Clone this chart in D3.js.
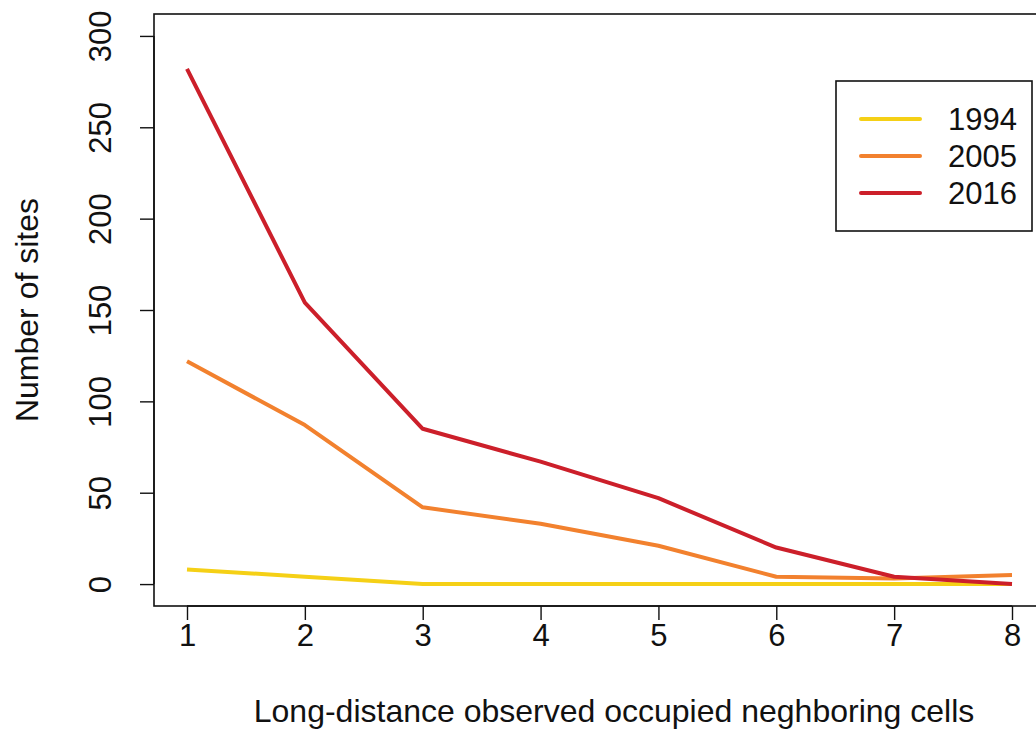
<!DOCTYPE html>
<html>
<head>
<meta charset="utf-8">
<script src="https://cdn.jsdelivr.net/npm/d3@7"></script>
<style>
  body { margin: 0; background: #fff; }
  text { font-family: "Liberation Sans", Arial, sans-serif; fill: #111; }
</style>
</head>
<body>
<svg id="chart" width="1036" height="755"></svg>
<script>
const cells = [1, 2, 3, 4, 5, 6, 7, 8];
const years = ["1994", "2005", "2016"];
const sites1994 = [8, 4, 0, 0, 0, 0, 0, 0];
const sites2005 = [122, 87, 42, 33, 21, 4, 3, 5];
const sites2016 = [282, 154, 85, 67, 47, 20, 4, 0];
const yTicks = [0, 50, 100, 150, 200, 250, 300];
const colors = ["#f5d016", "#f2812e", "#cc1f2a"];

const series = [sites1994, sites2005, sites2016];

const svg = d3.select("#chart");
const box = { left: 154, right: 1045, top: 14, bottom: 606 };

// R style padding: 4% on each side
const x = d3.scaleLinear().domain([0.72, 8.28]).range([box.left, box.right]);
const y = d3.scaleLinear().domain([-12, 312]).range([box.bottom, box.top]);

const fontSize = 31;

// lines
const line = d3.line()
    .x((d, i) => x(cells[i]))
    .y(d => y(d));

svg.append("g")
    .selectAll("path")
    .data(series)
    .join("path")
    .attr("d", line)
    .attr("fill", "none")
    .attr("stroke", (d, i) => colors[i])
    .attr("stroke-width", 4)
    .attr("stroke-linejoin", "round");

// plot box
svg.append("rect")
    .attr("x", box.left)
    .attr("y", box.top)
    .attr("width", box.right - box.left)
    .attr("height", box.bottom - box.top)
    .attr("fill", "none")
    .attr("stroke", "#111")
    .attr("stroke-width", 1.6);

// x axis
const xAxis = svg.append("g")
    .attr("transform", `translate(0, ${box.bottom})`)
    .call(d3.axisBottom(x).tickValues(cells).tickSize(14).tickPadding(4).tickFormat(d3.format("d")));
xAxis.select(".domain").attr("d", `M${x(1)},0H${x(8)}`).attr("stroke", "#111").attr("stroke-width", 1.4);
xAxis.selectAll(".tick line").attr("stroke", "#111").attr("stroke-width", 1.4);
xAxis.selectAll(".tick text")
    .attr("font-size", fontSize)
    .attr("font-family", "Liberation Sans, Arial, sans-serif")
    .attr("fill", "#111");

// y axis
const yAxis = svg.append("g")
    .attr("transform", `translate(${box.left}, 0)`)
    .call(d3.axisLeft(y).tickValues(yTicks).tickSize(14).tickFormat(d3.format("d")));
yAxis.select(".domain").attr("d", `M0,${y(0)}V${y(300)}`).attr("stroke", "#111").attr("stroke-width", 1.4);
yAxis.selectAll(".tick line").attr("stroke", "#111").attr("stroke-width", 1.4);
yAxis.selectAll(".tick text")
    .attr("font-size", fontSize)
    .attr("font-family", "Liberation Sans, Arial, sans-serif")
    .attr("fill", "#111")
    .attr("x", null)
    .attr("dy", null)
    .attr("text-anchor", "middle")
    .attr("transform", "translate(-54, 0) rotate(-90)")
    .attr("dominant-baseline", "central");

// axis titles
svg.append("text")
    .attr("x", 614)
    .attr("y", 722)
    .attr("text-anchor", "middle")
    .attr("font-size", 32)
    .text("Long-distance observed occupied neghboring cells");

svg.append("text")
    .attr("transform", `translate(38, ${(y(0) + y(300)) / 2}) rotate(-90)`)
    .attr("text-anchor", "middle")
    .attr("font-size", 32)
    .text("Number of sites");

// legend
const legend = svg.append("g").attr("transform", "translate(836, 81)");
legend.append("rect")
    .attr("width", 196)
    .attr("height", 150)
    .attr("fill", "#fff")
    .attr("stroke", "#111")
    .attr("stroke-width", 1.6);

const rows = legend.selectAll("g.row")
    .data(years)
    .join("g")
    .attr("class", "row")
    .attr("transform", (d, i) => `translate(0, ${38 + i * 37})`);
rows.append("line")
    .attr("x1", 25).attr("x2", 84)
    .attr("stroke", (d, i) => colors[i])
    .attr("stroke-width", 4)
    .attr("stroke-linecap", "round");
rows.append("text")
    .attr("x", 112)
    .attr("dy", "0.36em")
    .attr("font-size", fontSize)
    .text(d => d);
</script>
</body>
</html>
